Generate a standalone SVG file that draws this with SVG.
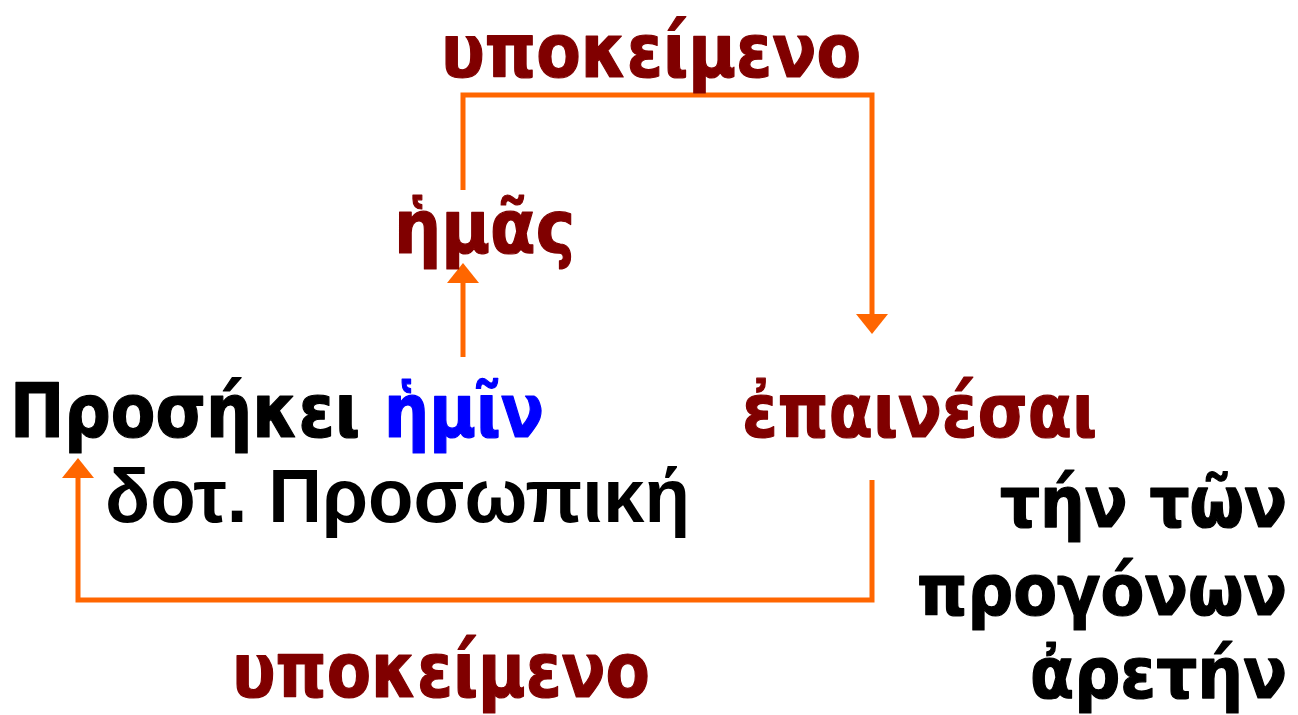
<svg xmlns="http://www.w3.org/2000/svg" width="1298" height="715" viewBox="0 0 1298 715">
<style>
.t{font-family:"DejaVu Sans Condensed","DejaVu Sans",Verdana,sans-serif;font-stretch:condensed;font-weight:bold;font-size:74px;stroke-width:1.2px;stroke-linejoin:round}
.r{font-size:71px}
.a{font-family:"Liberation Sans",Arial,sans-serif;font-weight:bold;font-size:76px}
.red{fill:#800000;stroke:#800000}.blk{fill:#000;stroke:#000}.blu{fill:#0000FF;stroke:#0000FF}
.a.blk{stroke:none}
.c{fill:none;stroke:#FF6600;stroke-width:5;marker-end:url(#ah)}
</style>
<defs>
<marker id="ah" viewBox="0 0 20 32" refX="0" refY="16" markerWidth="20" markerHeight="32" markerUnits="userSpaceOnUse" orient="auto">
<path d="M0,0 L20,16 L0,32 z" fill="#FF6600"/>
</marker>
</defs>
<rect width="1298" height="715" fill="#fff"/>
<g id="connectors">
<path class="c" d="M463,357 V283"/>
<path class="c" d="M463,190 V95 H872 V314"/>
<path class="c" d="M872,480 V600 H78 V478"/>
</g>
<g id="subj-top"><text class="t red" x="441" y="77" textLength="420" lengthAdjust="spacingAndGlyphs">υποκείμενο</text></g>
<g id="hemas"><text class="t red" x="394" y="253" textLength="181" lengthAdjust="spacingAndGlyphs">ἡμᾶς</text></g>
<g id="prosekei"><text class="t blk" x="10" y="437" textLength="350" lengthAdjust="spacingAndGlyphs">Προσήκει</text>
<text class="t blu" x="384" y="437" textLength="160" lengthAdjust="spacingAndGlyphs">ἡμῖν</text></g>
<g id="epainesai"><text class="t red" x="742" y="437" textLength="355" lengthAdjust="spacingAndGlyphs">ἐπαινέσαι</text></g>
<g id="dot"><text class="a blk" x="105" y="522" textLength="585" lengthAdjust="spacingAndGlyphs">δοτ. Προσωπική</text></g>
<g id="object" text-anchor="end"><text class="t r blk" x="1287" y="527" textLength="287" lengthAdjust="spacingAndGlyphs">τήν τῶν</text>
<text class="t r blk" x="1287" y="615" textLength="370" lengthAdjust="spacingAndGlyphs">προγόνων</text>
<text class="t r blk" x="1287" y="698" textLength="257" lengthAdjust="spacingAndGlyphs">ἀρετήν</text></g>
<g id="subj-bottom"><text class="t red" x="232" y="697" textLength="418" lengthAdjust="spacingAndGlyphs" style="font-size:76px">υποκείμενο</text></g>
</svg>
